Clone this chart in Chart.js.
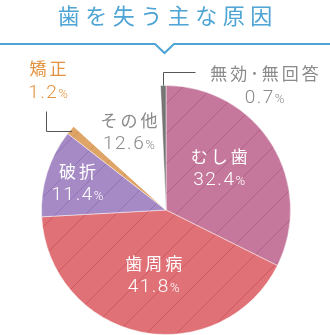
<!DOCTYPE html>
<html lang="ja">
<head>
<meta charset="utf-8">
<title>歯を失う主な原因</title>
<script src="https://cdn.jsdelivr.net/npm/chart.js@4/dist/chart.umd.min.js"></script>
<style>
  html, body { margin: 0; padding: 0; background: #fff; }
  canvas { display: block; }
</style>
</head>
<body>
<canvas id="chart" width="330" height="335"></canvas>
<script>
// Causes of tooth loss (%), clockwise from 12 o'clock
const categories = ['むし歯', '歯周病', '破折', '矯正', 'その他', '無効･無回答'];
const shares = [32.4, 41.8, 11.4, 1.2, 12.6, 0.7];
const chartTitle = '歯を失う主な原因';

const sliceColors = ['#c5789c', '#e07277', '#a68ac6', '#dfa567', '#ffffff', '#757575'];
const hatchColors = ['rgba(120,40,80,0.28)', 'rgba(170,40,60,0.35)', 'rgba(90,60,140,0.28)', 'rgba(150,90,40,0.25)', null, null];

const FONT = '"Noto Sans CJK JP", "Noto Sans", sans-serif';
const NUM_FONT = 'Roboto, "Noto Sans", sans-serif';
const BLUE = '#4ea4d4';

// how each slice is labelled
const labelStyle = [
  { mode: 'inside', frac: 0.54, dx: -4, dy: -6, color: '#ffffff' },
  { mode: 'inside', frac: 0.53, dx: 1, dy: 1, color: '#ffffff' },
  { mode: 'inside', frac: 0.72, dx: -3, dy: 0, color: '#ffffff' },
  { mode: 'leftLeader', color: '#e3913d' },
  { mode: 'inside', frac: 0.70, dx: 0, dy: 1, color: '#8a8a8a' },
  { mode: 'topLeader', color: '#8a8a8a' }
];

function hatch(fill, line) {
  const s = 30;
  const c = document.createElement('canvas');
  c.width = s; c.height = s;
  const g = c.getContext('2d');
  g.fillStyle = fill;
  g.fillRect(0, 0, s, s);
  if (line) {
    g.strokeStyle = line;
    g.lineWidth = 1;
    g.beginPath();
    g.moveTo(-2, s + 2); g.lineTo(s + 2, -2);
    g.moveTo(-2, 2); g.lineTo(2, -2);
    g.moveTo(s - 2, s + 2); g.lineTo(s + 2, s - 2);
    g.stroke();
  }
  return g.createPattern(c, 'repeat');
}

function drawLabelPair(ctx, name, value, cx, yName, yValue, color) {
  ctx.save();
  ctx.fillStyle = color;
  ctx.textBaseline = 'middle';
  ctx.textAlign = 'left';
  // category name
  ctx.font = '400 17px ' + FONT;
  ctx.letterSpacing = '3px';
  let w = ctx.measureText(name).width - 3;
  ctx.fillText(name, cx - w / 2, yName);
  // value with a smaller percent sign
  const num = value.toFixed(1);
  ctx.letterSpacing = '1.5px';
  ctx.font = '300 19px ' + NUM_FONT;
  const wNum = ctx.measureText(num).width;
  ctx.font = '300 13px ' + NUM_FONT;
  const wPct = ctx.measureText('%').width - 1.5;
  const x0 = cx - (wNum + wPct) / 2;
  ctx.font = '300 19px ' + NUM_FONT;
  ctx.fillText(num, x0, yValue);
  ctx.font = '300 13px ' + NUM_FONT;
  ctx.fillText('%', x0 + wNum, yValue + 1.5);
  ctx.restore();
}

const decorations = {
  id: 'decorations',
  beforeDraw(chart) {
    const ctx = chart.ctx;
    ctx.save();
    // heading
    ctx.fillStyle = BLUE;
    ctx.font = '400 22px ' + FONT;
    ctx.letterSpacing = '5.5px';
    ctx.textBaseline = 'middle';
    ctx.textAlign = 'left';
    const tw = ctx.measureText(chartTitle).width - 5.5;
    ctx.fillText(chartTitle, chart.width / 2 - tw / 2, 16);
    // rule with a notch
    ctx.letterSpacing = '0px';
    ctx.strokeStyle = BLUE;
    ctx.lineWidth = 2;
    ctx.beginPath();
    ctx.moveTo(0, 44);
    ctx.lineTo(155, 44);
    ctx.lineTo(164.5, 53);
    ctx.lineTo(174, 44);
    ctx.lineTo(chart.width, 44);
    ctx.stroke();
    ctx.restore();
  },
  afterDatasetsDraw(chart) {
    const ctx = chart.ctx;
    const meta = chart.getDatasetMeta(0);
    meta.data.forEach((arc, i) => {
      const p = arc.getProps(['x', 'y', 'startAngle', 'endAngle', 'outerRadius'], true);
      const mid = (p.startAngle + p.endAngle) / 2;
      const at = f => ({ x: p.x + Math.cos(mid) * p.outerRadius * f, y: p.y + Math.sin(mid) * p.outerRadius * f });
      const st = labelStyle[i];
      if (st.mode === 'inside') {
        const c = at(st.frac);
        drawLabelPair(ctx, categories[i], shares[i], c.x + st.dx, c.y + st.dy - 12, c.y + st.dy + 12, st.color);
      } else {
        ctx.save();
        ctx.strokeStyle = '#555';
        ctx.lineWidth = 1;
        ctx.beginPath();
        if (st.mode === 'leftLeader') {
          const s = at(0.985);
          const ex = Math.round(s.x - 26) + 0.5, ey = Math.round(s.y) + 0.5;
          ctx.moveTo(s.x, ey);
          ctx.lineTo(ex, ey);
          ctx.lineTo(ex, ey - 20);
          ctx.stroke();
          ctx.restore();
          drawLabelPair(ctx, categories[i], shares[i], ex + 1.5, ey - 63, ey - 38, st.color);
        } else {
          const s = at(1.0);
          const ex = Math.round(s.x) + 0.5, ey = Math.round(s.y - 14) + 0.5;
          ctx.moveTo(ex, s.y);
          ctx.lineTo(ex, ey);
          ctx.lineTo(ex + 32, ey);
          ctx.stroke();
          ctx.restore();
          drawLabelPair(ctx, categories[i], shares[i], ex + 101, ey + 1, ey + 26, st.color);
        }
      }
    });
  }
};

new Chart(document.getElementById('chart'), {
  type: 'pie',
  data: {
    labels: categories,
    datasets: [{
      data: shares,
      backgroundColor: sliceColors.map((c, i) => hatch(c, hatchColors[i])),
      borderColor: 'rgba(255,255,255,0.45)',
      borderWidth: 1
    }]
  },
  options: {
    responsive: false,
    devicePixelRatio: 1,
    animation: false,
    rotation: 0,
    layout: { padding: { top: 85, bottom: 0, left: 41, right: 39 } },
    plugins: {
      legend: { display: false },
      tooltip: { enabled: false },
      title: { display: false }
    }
  },
  plugins: [decorations]
});
</script>
</body>
</html>
